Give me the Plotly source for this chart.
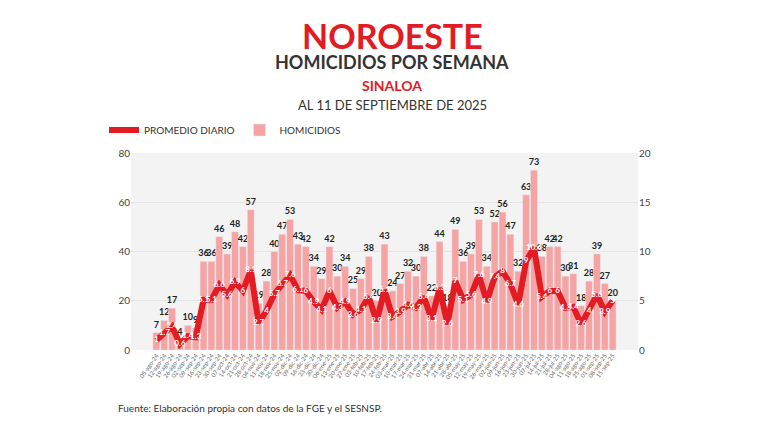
import pandas as pd
import plotly.graph_objects as go

homicidios = [7, 12, 17, 4, 10, 9, 36, 36, 46, 39, 48, 42, 57, 19, 28, 40, 47, 53, 43, 42,
              34, 29, 42, 30, 34, 25, 29, 38, 20, 43, 24, 27, 32, 30, 38, 22, 44, 18, 49, 36,
              39, 53, 34, 52, 56, 47, 32, 63, 73, 38, 42, 42, 30, 31, 18, 28, 39, 27, 20]
promedio = [1, 1.7, 2.4, 0.6, 1.4, 1.3, 5.1, 5.1, 6.6, 5.6, 6.9, 6, 8.1, 2.7, 4, 5.7, 6.7, 7.6, 6.1, 6,
            4.9, 4.1, 6, 4.3, 4.9, 3.6, 4.1, 5.4, 2.9, 6.1, 3.4, 3.9, 4.6, 4.3, 5.4, 3.1, 6.3, 2.6, 7, 5.1,
            5.6, 7.6, 4.9, 7.4, 8, 6.7, 4.6, 9, 10.4, 5.4, 6, 6, 4.3, 4.4, 2.6, 4, 5.6, 3.9, 5]

meses = ['ene', 'feb', 'mar', 'abr', 'may', 'jun', 'jul', 'ago', 'sep', 'oct', 'nov', 'dic']
fechas = pd.date_range(end='2025-09-15', periods=len(homicidios), freq='7D')
semanas = [f"{d.day:02d}-{meses[d.month - 1]}-{d.strftime('%y')}" for d in fechas]

ROJO = '#e31b23'
ROSA = '#f5a3a3'
FONT = 'Lato'
DY = 8  # page offset observed in the rendering
L, R, T, B = 123, 138, 153 - DY, 82 + DY
PW, PH = 768 - L - R, 432 - T - B


def px_x(x):
    return (x - L) / PW


def px_y(y):
    return (432 - B - (y - DY)) / PH


fig = go.Figure()
fig.add_trace(go.Bar(
    x=semanas, y=homicidios, name='HOMICIDIOS', marker_color=ROSA,
    text=homicidios, textposition='outside', cliponaxis=False, textangle=0, constraintext='none',
    textfont=dict(family=FONT, size=9, color='#222', weight='bold'),
))
fig.add_trace(go.Scatter(
    x=semanas, y=promedio, name='PROMEDIO DIARIO', yaxis='y2', mode='lines+text',
    line=dict(color=ROJO, width=6), text=[f"{v:g}" for v in promedio], textposition='middle center',
    textfont=dict(family=FONT, size=8, color='white', weight='bold'),
))

fig.update_layout(
    width=768, height=432, paper_bgcolor='white', plot_bgcolor='#f3f3f3',
    margin=dict(l=L, r=R, t=T, b=B, autoexpand=False),
    font=dict(family=FONT, color='#444'),
    bargap=0.12, showlegend=True,
    legend=dict(orientation='h', x=px_x(96), y=px_y(130), xanchor='left', yanchor='middle',
                font=dict(size=10, color='#333'), traceorder='reversed', itemwidth=30),
    xaxis=dict(tickangle=-55, tickfont=dict(size=6, color='#666'), showgrid=False,
               tickmode='array', tickvals=semanas, automargin=False),
    yaxis=dict(range=[0, 80], dtick=20, gridcolor='#e4e4e4', tickfont=dict(size=10),
               zeroline=False, automargin=False),
    yaxis2=dict(range=[0, 20], dtick=5, overlaying='y', side='right', showgrid=False,
                tickfont=dict(size=10), zeroline=False, automargin=False),
)

textos = [
    ('<b>NOROESTE</b>', 384, 35, 34, ROJO, 'center'),
    ('<b>HOMICIDIOS POR SEMANA</b>', 384, 62, 18, '#333', 'center'),
    ('<b>SINALOA</b>', 384, 85, 14, ROJO, 'center'),
    ('AL 11 DE SEPTIEMBRE DE 2025', 384, 105, 13, '#333', 'center'),
    ('Fuente: Elaboración propia con datos de la FGE y el SESNSP.', 108, 408, 10, '#333', 'left'),
]
for t, xp, yp, sz, c, anc in textos:
    fig.add_annotation(text=t, x=px_x(xp), y=px_y(yp), xref='paper', yref='paper', xanchor=anc,
                       yanchor='middle', showarrow=False, font=dict(family=FONT, size=sz, color=c))

fig.write_html('out.html')
